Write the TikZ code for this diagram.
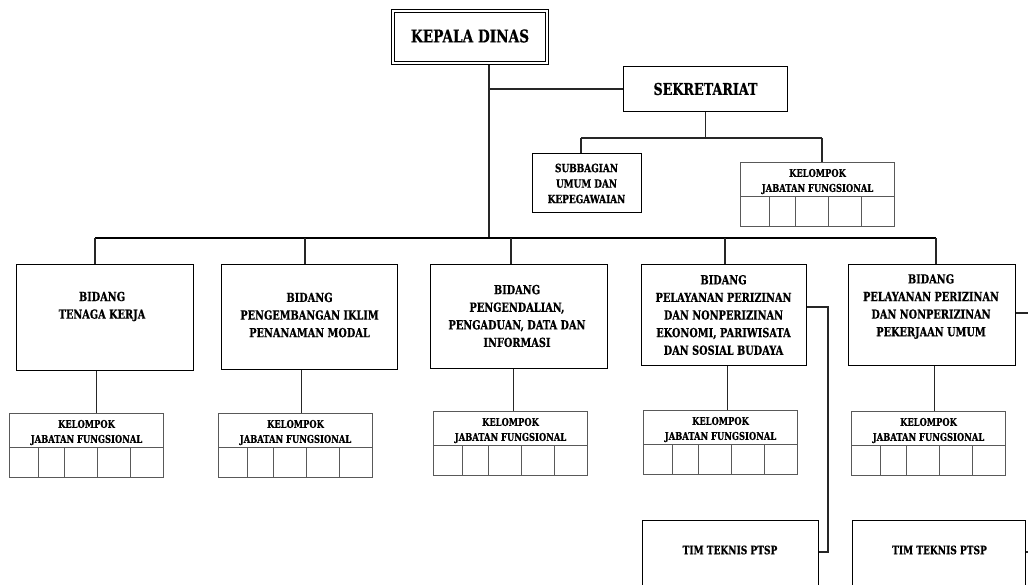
\documentclass[tikz,border=0pt]{standalone}
\usepackage{fontspec}
\setmainfont{DejaVu Serif}[FakeStretch=0.78, BoldFeatures={FakeBold=0.6}]
\tikzset{
  box/.style={draw=black, line width=1.2pt, inner sep=0pt, anchor=north west},
  kbox/.style={draw=black!65, line width=1pt, inner sep=0pt, anchor=north west, minimum width=154pt, minimum height=64pt},
  kline/.style={draw=black!65, line width=1pt},
  conn/.style={draw=black!85, line width=1.1pt},
  bus/.style={draw=black, line width=2pt},
  bigt/.style={font=\bfseries\fontsize{17.5}{20}\selectfont, inner sep=0pt},
  bidt/.style={font=\bfseries\fontsize{12.5}{17.6}\selectfont, align=center, inner sep=0pt},
  subt/.style={font=\bfseries\fontsize{11.4}{15.5}\selectfont, align=center, inner sep=0pt},
  kjt/.style={font=\bfseries\fontsize{10.7}{15}\selectfont, align=center, inner sep=0pt},
  timt/.style={font=\bfseries\fontsize{11.6}{13}\selectfont, inner sep=0pt},
}
\newcommand{\kjfgrid}[1]{%
  \draw[kline] ([yshift=-34pt]#1.north west) -- ([yshift=-34pt]#1.north east);
  \foreach \dd in {29,55,88,121}
    \draw[kline] ([xshift=\dd pt, yshift=-34pt]#1.north west) -- ([xshift=\dd pt]#1.south west);
  \node[kjt] (#1t) at ([yshift=-19.5pt]#1.north) {KELOMPOK\\JABATAN FUNGSIONAL};
}
\begin{document}
\begin{tikzpicture}[x=1pt,y=-1pt]
\useasboundingbox[fill=white] (0,0) rectangle (1028,584);

% top level
\node[box, line width=1.4pt, minimum width=157pt, minimum height=55pt] (kd) at (390.5,8.5) {};
\draw[black, line width=1pt] ([xshift=3.5pt,yshift=-3.5pt]kd.north west) rectangle ([xshift=-3.5pt,yshift=3.5pt]kd.south east);
\node[bigt] (kdt) at (470,36) {KEPALA DINAS};
\node[box, minimum width=164pt, minimum height=45pt] (sk) at (623,66) {};
\node[bigt, font=\bfseries\fontsize{16.3}{19}\selectfont] (skt) at (705.5,89) {SEKRETARIAT};
\node[box, minimum width=109pt, minimum height=59pt] (sub) at (532,153) {};
\node[subt] (subtx) at (586.5,183.5) {SUBBAGIAN\\UMUM DAN\\KEPEGAWAIAN};
\node[kbox] (k0) at (740,162) {};
\kjfgrid{k0}

% bidang boxes
\node[box, minimum width=177pt, minimum height=106pt] (b1) at (16,264) {};
\node[bidt] (b1t) at (102,306.5) {BIDANG\\TENAGA KERJA};
\node[box, minimum width=176pt, minimum height=105pt] (b2) at (221,264) {};
\node[bidt] (b2t) at (309.5,315) {BIDANG\\PENGEMBANGAN IKLIM\\PENANAMAN MODAL};
\node[box, minimum width=177pt, minimum height=104pt] (b3) at (430,264) {};
\node[bidt] (b3t) at (517,316) {BIDANG\\PENGENDALIAN,\\PENGADUAN, DATA DAN\\INFORMASI};
\node[box, minimum width=165pt, minimum height=101pt] (b4) at (641,264) {};
\node[bidt] (b4t) at (723.5,315) {BIDANG\\PELAYANAN PERIZINAN\\DAN NONPERIZINAN\\EKONOMI, PARIWISATA\\DAN SOSIAL BUDAYA};
\node[box, minimum width=167pt, minimum height=101pt] (b5) at (848,264) {};
\node[bidt] (b5t) at (931,306.5) {BIDANG\\PELAYANAN PERIZINAN\\DAN NONPERIZINAN\\PEKERJAAN UMUM};

% kelompok jabatan fungsional
\node[kbox] (k1) at (9,413) {};   \kjfgrid{k1}
\node[kbox] (k2) at (218,413) {}; \kjfgrid{k2}
\node[kbox] (k3) at (433,411) {}; \kjfgrid{k3}
\node[kbox] (k4) at (643,410) {}; \kjfgrid{k4}
\node[kbox] (k5) at (851,411) {}; \kjfgrid{k5}

% tim teknis
\node[box, minimum width=176pt, minimum height=80pt] (tim1) at (642,520) {};
\node[timt] (tim1t) at (730,550) {TIM TEKNIS PTSP};
\node[box, minimum width=173pt, minimum height=80pt] (tim2) at (852,520) {};
\node[timt] (tim2t) at (939.5,550) {TIM TEKNIS PTSP};

% connectors
\coordinate (kdj) at (489,238);
\coordinate (sj) at (489,89);
\draw[conn] (kd.south -| kdj) -- (kdj);
\draw[conn] (sj) -- (sk.west |- sj);
\coordinate (sbL) at (581,138);
\coordinate (sbR) at (822,138);
\draw[conn] (sk.south) -- (sk.south |- sbL);
\draw[conn] (sbL) -- (sbR);
\draw[conn] (sbL) -- (sbL |- sub.north);
\draw[conn] (sbR) -- (sbR |- k0.north);

\coordinate (d1) at (95,238);
\coordinate (d2) at (305,238);
\coordinate (d3) at (511,238);
\coordinate (d4) at (725,238);
\coordinate (d5) at (936,238);
\draw[bus] (d1) -- (d5);
\draw[conn] (d1) -- (d1 |- b1.north);
\draw[conn] (d2) -- (d2 |- b2.north);
\draw[conn] (d3) -- (d3 |- b3.north);
\draw[conn] (d4) -- (d4 |- b4.north);
\draw[conn] (d5) -- (d5 |- b5.north);

\draw[conn] ([xshift=-8.5pt]b1.south) -- ([xshift=-8.5pt]b1.south |- k1.north);
\draw[conn] ([xshift=-8pt]b2.south) -- ([xshift=-8pt]b2.south |- k2.north);
\draw[conn] ([xshift=-5.5pt]b3.south) -- ([xshift=-5.5pt]b3.south |- k3.north);
\draw[conn] ([xshift=3.5pt]b4.south) -- ([xshift=3.5pt]b4.south |- k4.north);
\draw[conn] ([xshift=2.5pt]b5.south) -- ([xshift=2.5pt]b5.south |- k5.north);

\coordinate (t1) at (828,307);
\coordinate (t2) at (828,552);
\draw[conn] (b4.east |- t1) -- (t1) -- (t2) -- (tim1.east |- t2);
\coordinate (e5) at (1028,313);
\draw[conn] (b5.east |- e5) -- (e5);
\coordinate (e6) at (1028,552);
\draw[conn] (tim2.east |- e6) -- (e6);
\end{tikzpicture}
\end{document}
